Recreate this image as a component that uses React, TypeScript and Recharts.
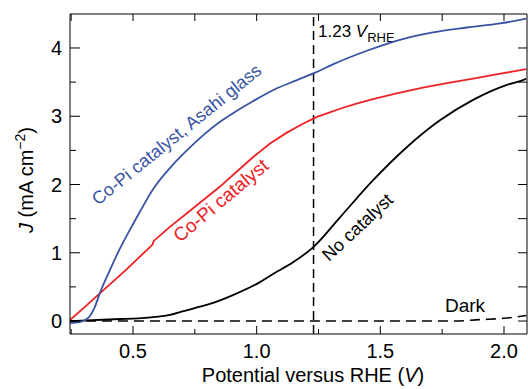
import { LineChart, Line, XAxis, YAxis, ReferenceLine } from "recharts";

const FONT = "'Liberation Sans', Arial, Helvetica, sans-serif";

// Co-Pi catalyst, Asahi glass (blue)
const asahiX = [0.245, 0.285, 0.32, 0.345, 0.366, 0.407, 0.447, 0.488, 0.528, 0.581, 0.649, 0.718, 0.783, 0.852, 0.92, 0.985, 1.082, 1.163, 1.244, 1.308, 1.446, 1.579, 1.713, 1.85, 1.984, 2.09];
const asahiJ = [-0.03, -0.015, 0.05, 0.2, 0.41, 0.75, 1.06, 1.34, 1.6, 1.93, 2.24, 2.5, 2.72, 2.92, 3.08, 3.22, 3.41, 3.53, 3.65, 3.76, 3.96, 4.12, 4.23, 4.3, 4.36, 4.43];

// Co-Pi catalyst (red)
const copiX = [0.245, 0.3, 0.358, 0.42, 0.475, 0.53, 0.579, 0.583, 0.649, 0.718, 0.783, 0.852, 0.92, 0.985, 1.054, 1.122, 1.187, 1.244, 1.29, 1.337, 1.4, 1.47, 1.57, 1.672, 1.775, 1.875, 1.98, 2.09];
const copiJ = [0.015, 0.19, 0.38, 0.58, 0.76, 0.95, 1.12, 1.17, 1.38, 1.58, 1.77, 1.97, 2.19, 2.4, 2.6, 2.76, 2.89, 2.99, 3.05, 3.11, 3.18, 3.25, 3.34, 3.42, 3.49, 3.55, 3.62, 3.69];

// No catalyst (black)
const noCatX = [0.245, 0.447, 0.52, 0.6, 0.65, 0.7, 0.75, 0.811, 0.904, 1.013, 1.066, 1.147, 1.228, 1.337, 1.47, 1.608, 1.741, 1.875, 2.012, 2.077, 2.09];
const noCatJ = [0.0, 0.03, 0.04, 0.065, 0.09, 0.14, 0.19, 0.25, 0.38, 0.57, 0.69, 0.86, 1.08, 1.52, 2.06, 2.55, 2.94, 3.24, 3.46, 3.53, 3.55];

// Dark (dashed)
const darkX = [0.245, 1.0, 1.8, 1.9, 2.0, 2.09];
const darkJ = [0.0, 0.0, 0.0, 0.02, 0.04, 0.08];

const xTicks = [0.25, 0.5, 0.75, 1.0, 1.25, 1.5, 1.75, 2.0];
const yTicks = [0, 0.5, 1, 1.5, 2, 2.5, 3, 3.5, 4];
const xDomain = [0.2453, 2.093];
const yDomain = [-0.19, 4.498];

const toPoints = (xs: number[], ys: number[]) => xs.map((x, i) => ({ x, j: ys[i] }));

const asahiData = toPoints(asahiX, asahiJ);
const copiData = toPoints(copiX, copiJ);
const noCatData = toPoints(noCatX, noCatJ);
const darkData = toPoints(darkX, darkJ);

const isWhole = (v: number) => Math.abs(v - Math.round(v)) < 1e-6;
const isHalf = (v: number) => isWhole(v * 2);

const BottomTick = ({ x, y, payload }: any) => {
  const major = isHalf(payload.value);
  return (
    <g>
      <line x1={x} x2={x} y1={y} y2={y - (major ? 8 : 5)} stroke="#000" strokeWidth={1} />
      {major && (
        <text x={x} y={y + 24} textAnchor="middle" fontSize={20} fontFamily={FONT} fill="#000">
          {payload.value.toFixed(1)}
        </text>
      )}
    </g>
  );
};

const TopTick = ({ x, y }: any) => (
  <line x1={x} x2={x} y1={y} y2={y + 7} stroke="#000" strokeWidth={1} />
);

const LeftTick = ({ x, y, payload }: any) => {
  const major = isWhole(payload.value);
  return (
    <g>
      <line x1={x} x2={x + (major ? 10 : 6)} y1={y} y2={y} stroke="#000" strokeWidth={1} />
      {major && (
        <text x={x - 8} y={y + 7} textAnchor="end" fontSize={20} fontFamily={FONT} fill="#000">
          {payload.value}
        </text>
      )}
    </g>
  );
};

const RightTick = ({ x, y }: any) => (
  <line x1={x} x2={x - 9} y1={y} y2={y} stroke="#000" strokeWidth={1} />
);

export default function App() {
  return (
    <div style={{ position: "absolute", left: 0, top: 0, background: "#fff" }}>
      <LineChart width={528} height={389} margin={{ top: 13, right: 0, bottom: 0, left: 20 }}>
        <XAxis
          type="number"
          dataKey="x"
          domain={xDomain}
          ticks={xTicks}
          allowDataOverflow
          height={55}
          tickSize={0}
          tickMargin={0}
          tickLine={false}
          tick={<BottomTick />}
          axisLine={{ stroke: "#000", strokeWidth: 1 }}
          interval={0}
        />
        <XAxis
          xAxisId="top"
          orientation="top"
          type="number"
          dataKey="x"
          domain={xDomain}
          ticks={xTicks}
          allowDataOverflow
          height={1}
          tickSize={0}
          tickMargin={0}
          tickLine={false}
          tick={<TopTick />}
          axisLine={{ stroke: "#000", strokeWidth: 1 }}
          interval={0}
        />
        <YAxis
          type="number"
          domain={yDomain}
          ticks={yTicks}
          allowDataOverflow
          width={50}
          tickSize={0}
          tickMargin={0}
          tickLine={false}
          tick={<LeftTick />}
          axisLine={{ stroke: "#000", strokeWidth: 1 }}
          interval={0}
        />
        <YAxis
          yAxisId="right"
          orientation="right"
          type="number"
          domain={yDomain}
          ticks={yTicks}
          allowDataOverflow
          width={1}
          tickSize={0}
          tickMargin={0}
          tickLine={false}
          tick={<RightTick />}
          axisLine={{ stroke: "#000", strokeWidth: 1 }}
          interval={0}
        />
        <ReferenceLine x={1.23} stroke="#000" strokeWidth={1.5} strokeDasharray="9 5" />
        <Line data={darkData} dataKey="j" type="monotone" stroke="#000" strokeWidth={1.6} strokeDasharray="10 6" dot={false} isAnimationActive={false} />
        <Line data={noCatData} dataKey="j" type="monotone" stroke="#000" strokeWidth={1.8} dot={false} isAnimationActive={false} />
        <Line data={copiData} dataKey="j" type="linear" stroke="#ee2124" strokeWidth={1.8} dot={false} isAnimationActive={false} />
        <Line data={asahiData} dataKey="j" type="monotone" stroke="#3953a4" strokeWidth={1.8} dot={false} isAnimationActive={false} />

        <text x={318} y={37} fontSize={17} fontFamily={FONT} fill="#000">
          1.23 <tspan fontStyle="italic">V</tspan>
          <tspan fontSize={13} dy={5}>RHE</tspan>
        </text>
        <text x={445} y={312} fontSize={19} fontFamily={FONT} fill="#000">Dark</text>
        <text x={329} y={262} fontSize={18} fontFamily={FONT} fill="#000" transform="rotate(-43 329 262)">No catalyst</text>
        <text x={180} y={243} fontSize={19} fontFamily={FONT} fill="#ee2124" transform="rotate(-40 180 243)">Co-Pi catalyst</text>
        <text x={98} y={206} fontSize={18} fontFamily={FONT} fill="#3953a4" transform="rotate(-39 98 206)">Co-Pi catalyst, Asahi glass</text>

        <text x={313} y={382} textAnchor="middle" fontSize={20} fontFamily={FONT} fill="#000">
          Potential versus RHE (<tspan fontStyle="italic">V</tspan>)
        </text>
        <text x={33} y={180} textAnchor="middle" fontSize={20} fontFamily={FONT} fill="#000" transform="rotate(-90 33 180)">
          <tspan fontStyle="italic">J</tspan> (mA cm<tspan fontSize={14} dy={-8}>−2</tspan><tspan dy={8}>)</tspan>
        </text>
      </LineChart>
    </div>
  );
}
